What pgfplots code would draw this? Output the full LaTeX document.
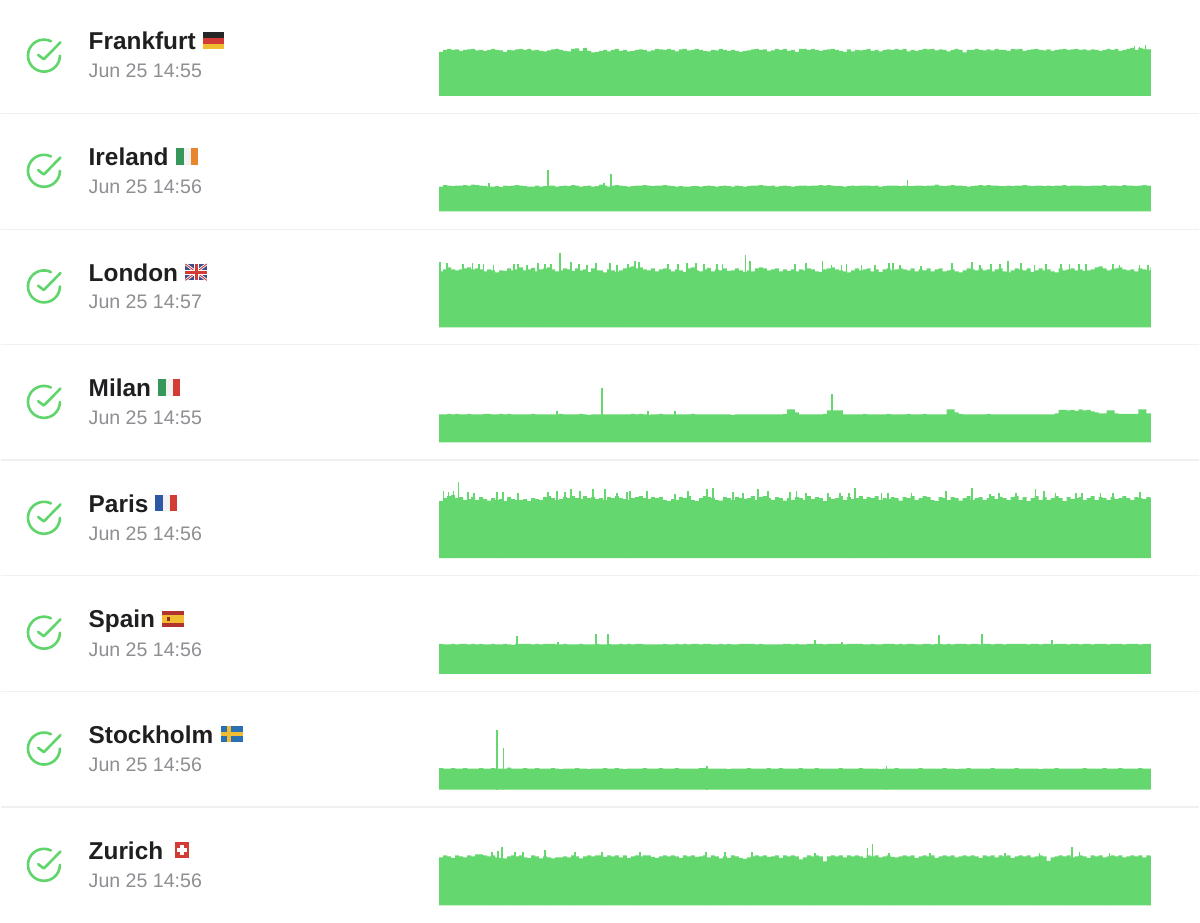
\documentclass[border=0pt]{standalone}
\usepackage{pgfplots}
\pgfplotsset{compat=1.18}
\usepackage{fontspec}
\setmainfont{Liberation Sans}
\definecolor{bar}{HTML}{64D86F}
\definecolor{chk}{HTML}{5FD56C}
\definecolor{nm}{HTML}{1F1F21}
\definecolor{dt}{HTML}{8E8E93}
\definecolor{sep}{HTML}{F0F0F0}
\definecolor{fgold}{HTML}{F0BC32}
\definecolor{fgreen}{HTML}{35985A}
\definecolor{forange}{HTML}{E8862E}
\definecolor{fred}{HTML}{D23C34}
\definecolor{fblue}{HTML}{2F57A8}
\definecolor{ukblue}{HTML}{3B4F8E}
\definecolor{sblue}{HTML}{2A70B4}
\definecolor{fwhite}{HTML}{F2F2F2}
\newcommand{\rowchart}[3]{%
\begin{axis}[at={(439pt,#1pt)},anchor=south west,scale only axis,width=712.4pt,height=100pt,
  xmin=439,xmax=1151.4,ymin=0,ymax=100,hide axis,clip=true]
\addplot[const plot,fill=bar,draw=none] table[row sep=\\,header=false,x expr=439+\coordindex*4,y index=0]{#2\\} \closedcycle;
\addplot[ycomb,draw=bar,line width=1.8pt,mark=none] coordinates {#3};
\end{axis}}
\newcommand{\rowtext}[6]{% check y, name baseline, name, date baseline, date
\begin{scope}[yshift=#1pt]
\draw[chk,line width=2.6pt,line cap=round] (43.4pt,0pt)++(64:16pt) arc (64:360:16pt);
\draw[chk,line width=2.6pt,line cap=round,line join=round] (37.6pt,0.7pt) -- (43.3pt,-3.6pt) -- (60pt,13.4pt);
\end{scope}
\node[anchor=base west,inner sep=0pt,text=nm,font=\fontsize{24.4}{26}\selectfont\bfseries] at (88pt,#2pt) {#3};
\node[anchor=base west,inner sep=0pt,text=dt,font=\fontsize{19.6}{22}\selectfont] at (88pt,#4pt) {#5};
}
\newcommand{\flagbase}[3]{\begin{scope}[shift={(#1pt,#2pt)}] #3 \end{scope}}
\begin{document}
\begin{tikzpicture}[x=1pt,y=1pt]
\path[fill=white] (0pt,0pt) rectangle (1200pt,923pt);
\foreach \y in {809.6,693.6,578.1,462.5,346.8,231.1,115.1}{\draw[sep,line width=1.2pt] (0pt,\y pt) -- (1200pt,\y pt);}
\rowtext{867.3}{873}{Frankfurt}{845.3}{Jun 25 14:55}{}
\rowtext{752}{757.3}{Ireland}{729}{Jun 25 14:56}{}
\rowtext{636.3}{641.3}{London}{613.7}{Jun 25 14:57}{}
\rowtext{520.7}{525.7}{Milan}{497.7}{Jun 25 14:55}{}
\rowtext{404.7}{409.7}{Paris}{382}{Jun 25 14:56}{}
\rowtext{289.7}{295.3}{Spain}{266.3}{Jun 25 14:56}{}
\rowtext{173.7}{178.7}{Stockholm}{150.7}{Jun 25 14:56}{}
\rowtext{57.3}{63}{Zurich}{34.7}{Jun 25 14:56}{}
% flags
\flagbase{202.5}{874}{\fill[black!85] (0,10.8)rectangle(21.5,16.5);\fill[fred] (0,5.4)rectangle(21.5,10.8);\fill[fgold] (0,0)rectangle(21.5,5.4);}
\flagbase{176}{758}{\fill[fgreen] (0,0)rectangle(7.2,16.5);\fill[fwhite] (7.2,0)rectangle(14.4,16.5);\fill[forange] (14.4,0)rectangle(21.5,16.5);}
\flagbase{185}{642.3}{\fill[ukblue] (0,0)rectangle(21.5,16.5);\begin{scope}\clip (0,0)rectangle(21.5,16.5);\draw[white,line width=2.6pt](0,0)--(21.5,16.5)(0,16.5)--(21.5,0);\draw[fred,line width=.9pt](0,0)--(21.5,16.5)(0,16.5)--(21.5,0);\end{scope}\fill[white](8.3,0)rectangle(13.2,16.5);\fill[white](0,5.8)rectangle(21.5,10.7);\fill[fred](9.4,0)rectangle(12.1,16.5);\fill[fred](0,6.9)rectangle(21.5,9.6);}
\flagbase{158}{527}{\fill[fgreen] (0,0)rectangle(7.2,16.5);\fill[fwhite] (7.2,0)rectangle(14.4,16.5);\fill[fred] (14.4,0)rectangle(21.5,16.5);}
\flagbase{155}{411}{\fill[fblue] (0,0)rectangle(7.2,16.5);\fill[fwhite] (7.2,0)rectangle(14.4,16.5);\fill[fred] (14.4,0)rectangle(21.5,16.5);}
\flagbase{162}{295.3}{\fill[fred!85!black] (0,0)rectangle(21.5,16.5);\fill[fgold] (0,4.2)rectangle(21.5,12.3);\fill[fred!70!black] (4.5,6)rectangle(7.5,10.5);}
\flagbase{221}{180}{\fill[sblue] (0,0)rectangle(21.5,16.5);\fill[fgold](6,0)rectangle(9.5,16.5);\fill[fgold](0,6.5)rectangle(21.5,10);}
\flagbase{174.5}{64.3}{\fill[fred] (0,0)rectangle(14.5,15.7);\fill[white](5.5,3)rectangle(9,12.7);\fill[white](2.4,6.1)rectangle(12.1,9.6);}
% Frankfurt
\rowchart{827.1}{
44\\46\\47\\46\\46.5\\45\\46\\46.5\\47\\45.5\\46\\45\\46\\47\\46\\45.5\\44\\46\\45.5\\46.5\\
47\\46\\47\\45.5\\46\\45\\44.5\\45.5\\46.5\\47\\46\\45\\44.5\\47\\47.5\\45\\48\\45\\43.5\\44\\
45\\46\\44.5\\46\\47\\45\\46\\44.5\\45\\46\\46.5\\46\\44.5\\45.5\\47\\46.5\\46\\47\\46\\44.5\\
46.5\\47\\45.5\\46\\47\\46\\45\\44.5\\46\\45.5\\47\\46\\45\\46\\45\\44\\45\\45.5\\46.5\\47\\
46\\46.5\\44.5\\45.5\\47\\46\\47\\45\\46\\44\\47\\47\\46\\47\\46\\45\\46\\46.5\\47\\46\\
45\\44\\46.5\\44.5\\46\\45.5\\46\\47\\45\\46\\44.5\\46\\46.5\\46\\47\\46\\47\\44.5\\46\\45\\
46\\47\\46.5\\47\\45.5\\46.5\\46\\44.5\\46\\47\\46\\43.5\\46\\46\\47\\46\\45.5\\46.5\\45.5\\47\\
46\\46\\45\\47\\46.5\\47\\45\\46\\46.5\\47\\46\\45.5\\46.5\\45\\46\\46.5\\47\\46\\46.5\\47\\
46\\46.5\\45.5\\46.5\\46\\45\\46\\47\\46\\47\\45\\46\\47\\48\\46\\48\\47\\46.5\\47\\47
}{(1146,51)(1135,49.5)(1140,49)}
% Ireland
\rowchart{711.3}{
25\\26.5\\26\\25.5\\26\\26\\26.5\\26\\27\\26.5\\26\\25.5\\25\\25\\25.5\\24.5\\26\\25.5\\26\\26.5\\
26\\25.5\\25\\25\\26\\25\\25.5\\26\\26\\25\\25.5\\26\\25.5\\26.5\\26\\25\\25.5\\26\\25\\25.5\\
27\\26\\25\\26\\26.5\\26\\25.5\\25\\25.5\\26\\26\\26.5\\26\\25.5\\26\\26\\26.5\\26\\25.5\\25\\
25.5\\25\\25\\25.5\\25.5\\25\\25.5\\26\\25.5\\25\\25.5\\26\\25.5\\25\\26\\25.5\\25\\25.5\\26\\26\\
26.5\\26\\25.5\\26\\25\\25.5\\26\\25.5\\25\\25.5\\26\\26\\25.5\\26\\26\\26.5\\26\\26.5\\26\\25.5\\
25.5\\25\\25.5\\26\\25.5\\26\\26\\26\\25.5\\26\\25\\25.5\\26\\26\\26\\25.5\\26\\25.5\\25.5\\26\\
26\\25.5\\26\\26\\27\\26\\25.5\\26\\26.5\\26\\26\\25.5\\25\\25.5\\26\\26.5\\26\\26.5\\26\\26\\
25.5\\25.5\\26\\25.5\\26\\26\\26.5\\26\\25.5\\26\\26\\25.5\\26\\25.5\\26\\26\\26.5\\25.5\\26\\26\\
26\\25.5\\25.5\\26\\26\\26\\26.5\\25.5\\26\\26\\25.5\\26.5\\26\\26\\25.5\\26\\26.5\\26\\26\\26
}{(548,42)(611.3,38)(907.7,32)(604,29)(489,28.5)}
% London
\rowchart{595.3}{
56\\58\\60\\58\\57\\58\\59\\60\\58\\59\\58\\56\\58\\57\\55\\57\\56.5\\59\\57\\58\\
60\\57\\58\\59.5\\56\\58\\59\\60\\58\\56\\57\\59\\58\\56.5\\59\\57\\58\\55.5\\59\\57\\
57\\55\\58\\57\\55.5\\57\\59\\60\\61\\59\\60\\58\\57\\59\\56\\58\\59\\58\\56\\58\\
57\\55.5\\59\\60\\57\\56\\58\\59.5\\56\\58\\57\\59\\56.5\\57\\59\\57\\55.5\\57\\56\\59\\
60\\59\\57\\58\\59\\56\\58\\56.5\\58\\56\\58\\57\\59\\58\\56\\55.5\\58\\59\\60\\58\\
57\\56\\55\\57\\59\\57\\58\\59\\56\\58\\55.5\\58\\59\\57\\58\\59\\58\\57\\59\\56\\
58\\57\\59\\56\\58\\59\\56\\57\\58\\56\\55\\57\\59\\58\\57\\59\\57\\58\\56\\58\\
59\\56\\55\\57\\59\\58\\57\\59\\55.5\\57\\59\\57\\58\\56\\55\\59\\57\\58\\59\\57\\
58\\56.5\\57\\58\\60\\61\\59\\57\\58\\59\\60\\58\\57\\58\\56\\59\\58\\57\\60\\58\\57.5
}{(440,65)(446.7,64.5)(462.7,63)(472.3,64)(479,63.5)(483.3,63)(493.3,62)(514,63)(518.3,63)(526.7,62)(538.3,64)(545,63)(550.7,63)(560.3,74)(571.3,65)(579.3,63)(586.7,62)(595.7,64)(610,64)(616.7,62)(628.3,63)(635,66)(639.3,65)(668.3,63)(678.3,63)(686.7,64)(696,64)(704,63)(717.3,63)(722.7,63)(745.7,72)(750,66)(795,63)(806,64)(822.7,66)(831.7,62)(841.7,62.5)(846.7,63)(861.7,62.5)(875,62)(889.3,64)(893.3,64)(900,62)(921.7,61.5)(952.7,64)(972.7,65)(980,62.5)(991.7,63)(1000,63)(1008.3,66)(1021.7,64)(1035,62.5)(1046.7,63)(1061.7,63)(1070,63.5)(1079.3,63)(1086.7,63)(1113.3,63)(1120,62)(1140,62)(1148.3,62)}
% Milan
\rowchart{480.1}{
28\\28\\28.5\\28\\28.5\\28\\28\\28.5\\28\\28\\28\\28.5\\28.5\\28\\28\\28.5\\28\\28.5\\28\\28\\
28\\28\\28\\28.5\\28\\28\\28\\28\\28\\28\\28.5\\28\\28\\28\\28\\28.5\\28\\27.5\\28\\28\\
28\\28\\28\\28\\28\\28\\28\\28\\28.5\\28\\28.5\\28\\27.5\\28\\28\\28.5\\28\\28\\28\\28\\
28\\28\\28\\28.5\\28\\28\\28\\28\\28\\28\\28\\28\\28\\27.5\\28\\28\\28\\28\\28\\28\\
28\\28\\28\\28\\28\\28\\28.5\\33\\33\\30\\28\\28\\28\\28\\28\\28\\28.5\\32\\32\\32\\
32\\28\\28\\28\\28\\28\\28.5\\28\\28\\28\\28\\28\\28.5\\28\\28\\28\\28\\28.5\\28\\28\\
28\\28.5\\28\\28\\28\\28\\28\\33\\33\\30\\28.5\\28\\28\\28\\28\\28\\28\\28.5\\28\\28\\
28\\28\\28\\28\\28\\28\\28\\28\\28\\28\\28\\28\\28\\28\\29\\32.6\\32.6\\32\\32.5\\31.5\\
33\\32\\32.5\\31\\30\\29\\29\\32\\32\\29\\28.5\\28.5\\28.5\\28.5\\28.5\\33\\33\\29\\29\\29
}{(602.3,54.6)(832.3,48)(557,31.5)(648,31)(675,31)}
% Paris
\rowchart{364.3}{
57\\60\\62\\63\\60\\61\\58\\59\\61\\58\\61\\59\\57.5\\60\\58\\59\\57\\61\\59\\58\\
58\\59\\57\\60\\59\\58\\61\\62\\60\\58\\59\\61\\60\\62\\60\\59\\62\\60\\61\\59\\
60\\58\\61\\60\\62\\60\\59\\58\\60\\61\\62\\60\\59\\61\\60\\61\\58\\57\\59\\58\\
61\\60\\62\\58\\57\\60\\62\\61\\60\\58\\57.5\\61\\60\\58\\61\\60\\59\\60\\62\\58\\
61\\62\\60\\58\\61\\60\\57.5\\60\\58\\61\\60\\58\\62\\59\\61\\60\\57\\61\\59\\60\\
62\\58\\61\\59\\60\\62\\59\\61\\60\\62\\58\\60\\59\\61\\60\\57.5\\61\\60\\62\\58\\
60\\62\\61\\58\\57\\61\\60\\58\\61\\60\\57.5\\60\\62\\58\\60\\61\\58\\60\\62\\59\\
61\\60\\58\\61\\62\\58\\61\\57\\60\\62\\58\\61\\58\\60\\62\\60\\57\\61\\59\\60\\
61\\58\\60\\62\\58\\61\\60\\58\\61\\59\\60\\62\\60\\58\\61\\60\\59\\61\\60\\59
}{(443.3,67)(448.3,66)(453.3,67)(458.3,76.6)(467.7,66)(474,65)(496.7,66)(502.7,66)(518.3,65)(548.3,66)(556.7,67)(565,66)(570.7,69)(580,67)(593.3,69)(605,69)(616.7,65.5)(626.7,66)(630,67)(646.7,67)(675,64)(688.3,67)(706.7,69)(713.3,70)(733.3,66)(743.3,65)(758.3,69)(768.3,67)(790,66)(796.7,67)(806,65)(828,65.5)(840,65.5)(849,65)(855,70)(881.7,65)(888.3,65)(911.7,65)(946.7,67)(972.7,70)(990,64)(999.3,65.5)(1016.7,65)(1036,69)(1044.3,67)(1056,65)(1076.7,65)(1082.7,65)(1101,65.5)(1113.3,65)(1140.7,66)}
% Spain
\rowchart{248.5}{
30\\29.5\\29.5\\30\\29.5\\30\\30\\29.5\\30\\29.5\\30\\29.5\\29.5\\30\\29.5\\29.5\\30\\29.5\\29\\30\\
30\\30\\30\\29.5\\30\\29.5\\30\\30\\30\\29.5\\29.5\\30\\29.5\\29.5\\29.5\\30\\29.5\\29.5\\29.5\\30\\
29.5\\29.5\\30\\29.5\\29.5\\30\\29.5\\30\\29.5\\30\\30\\29.5\\29.5\\29.5\\29.5\\29.5\\30\\29.5\\29.5\\30\\
29.5\\30\\29.5\\30\\30\\29.5\\30\\30\\29.5\\29.5\\30\\29.5\\30\\29.5\\29.5\\30\\30\\30\\30\\29.5\\
30\\29.5\\29.5\\29.5\\29.5\\29.5\\30\\30\\29.5\\30\\29.5\\29.5\\30\\30\\30\\30\\29.5\\30\\30\\30\\
30\\29.5\\30\\30\\30\\30\\29.5\\29.5\\30\\29.5\\29.5\\30\\30\\30\\29.5\\30\\29.5\\30\\30\\29.5\\
29.5\\30\\30\\29.5\\30\\30\\29.5\\30\\29.5\\30\\30\\30\\29.5\\30\\30\\29.5\\30\\30\\29.5\\30\\
30\\29.5\\30\\30\\30\\30\\30\\29.5\\30\\30\\29.5\\30\\30\\29.5\\30\\30\\30\\29.5\\30\\30\\
29.5\\30\\30\\29.5\\30\\30\\30\\29.5\\30\\30\\30\\29.5\\30\\30\\30\\29.5\\30\\30\\30\\30
}{(517.3,38.3)(596,39.5)(608.3,39.5)(939,39)(982,40)(558,32)(815,34)(842,32)(1052.7,33.5)}
% Stockholm
\rowchart{132.5}{
21.5\\21\\21\\21.5\\21\\21\\21.5\\21\\21\\21\\21.5\\21\\21\\21.5\\21\\21\\21\\22\\21\\21\\
21\\21.5\\21\\21\\21.5\\21\\21\\21\\21.5\\21\\20.5\\21\\21\\21\\21.5\\21\\21\\20.5\\21\\21\\
21\\21.5\\21\\21\\21.5\\21\\20.5\\21\\21\\21\\21\\21.5\\21\\21\\21\\21.5\\21\\21\\21\\21.5\\
21\\21\\21\\21\\21\\21.5\\21.5\\21\\21\\21\\21\\21\\20.5\\21\\21\\21\\21\\21.5\\21\\21\\
21\\21\\21.5\\21\\21\\21.5\\21\\21\\21\\21\\21.5\\21\\21\\21\\21.5\\21\\21\\21\\21\\21\\
21.5\\21\\21\\21\\21\\21.5\\21\\21\\21\\21\\20.5\\21\\21\\21\\21.5\\21\\21\\21\\21\\21\\
21.5\\21\\21\\21\\21\\21\\21.5\\21\\21\\20.5\\21\\21\\21.5\\21\\21\\21\\21\\21\\21.5\\21\\
21\\21\\21\\21\\21.5\\21\\21\\21\\21\\21\\20.5\\21\\21\\21\\21.5\\21\\21\\21\\21\\21\\
21\\21.5\\21\\21\\21\\21\\21.5\\21\\21\\21\\21.5\\21\\21\\21\\21\\21.5\\21\\21\\21\\21
}{(497,59.3)(503.3,41.7)(707,23.5)(886.7,23.5)}
% Zurich
\rowchart{16.7}{
48\\50\\49\\47.5\\50\\49\\48\\50\\49\\51\\51\\50\\49\\50\\48\\47.5\\47\\49\\50\\49\\
50\\48\\47.5\\50\\49\\47\\49\\48\\47\\48\\48\\49\\48\\50\\49\\47\\49\\50\\49\\50\\
50\\48.5\\50\\49\\50\\48\\50\\47.5\\49\\50\\49\\50\\50\\48.5\\47.5\\49\\50\\49\\50\\49\\
47.5\\50\\49\\50\\48.5\\49\\50\\48\\50\\49\\47\\49\\47.5\\50\\49\\47.5\\46.5\\48\\49\\50\\
49\\50\\48.5\\49\\50\\47.5\\50\\49\\50\\49\\46\\48\\50\\49\\50\\49\\44\\49\\50\\49\\
50\\48\\50\\49\\50\\49\\47.5\\50\\49\\50\\48\\49\\50\\48.5\\48\\49\\50\\49\\50\\47.5\\
49\\50\\49\\50\\47.5\\49\\50\\49\\50\\48\\49\\50\\49\\50\\49\\47.5\\50\\49\\50\\48\\
50\\49\\50\\47.5\\49\\50\\49\\50\\48\\49\\50\\49\\44.5\\48\\49\\50\\49\\50\\48\\49\\
50\\49\\47.5\\50\\49\\50\\48\\49\\50\\49\\50\\48\\49\\50\\49\\50\\48\\50\\49\\48
}{(501.7,58.4)(545,55.7)(867.7,57.5)(872.7,61)(1072.7,58.5)(492,53.5)(515,53)(523,53)(498,54)(575,53)(602,53)(640,53)(706,53)(725,53)(752,53)(815,52.5)(889,52)(930,52)(1005,52)(1040,52)(1080,53)(1110,52)}
\end{tikzpicture}
\end{document}
